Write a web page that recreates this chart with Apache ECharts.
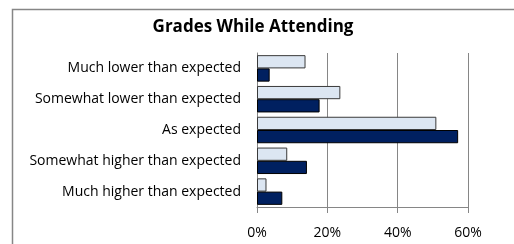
<!DOCTYPE html>
<html><head><meta charset="utf-8">
<script src="https://cdn.jsdelivr.net/npm/echarts@6/dist/echarts.min.js"></script>
<style>html,body{margin:0;padding:0;background:#fff}#c{width:514px;height:244px}</style>
</head><body><div id="c"></div>
<script>
const categories = ["Much lower than expected","Somewhat lower than expected","As expected","Somewhat higher than expected","Much higher than expected"];
const seriesLight = [13.8, 23.7, 51.0, 8.6, 2.7];
const seriesDark = [3.6, 17.8, 57.2, 14.2, 7.2];
const xTicks = [0, 20, 40, 60];

const chart = echarts.init(document.getElementById('c'), null, {renderer:'canvas'});
const font = '"Open Sans", sans-serif';
chart.setOption({
  animation:false,
  title:{text:'Grades While Attending', left:248, top:14, textAlign:'center',
    textStyle:{fontFamily:font, fontSize:17, fontWeight:'bold', color:'#000'}},
  graphic:[{type:'rect', shape:{x:12.5,y:9.5,width:600,height:400}, style:{fill:null, stroke:'#868686', lineWidth:1.5}, silent:true, z:-1}],
  grid:{left:257, top:53, width:211, height:154, containLabel:false},
  xAxis:{type:'value', min:0, max:60, interval:20,
    axisLine:{show:true, lineStyle:{color:'#868686'}},
    axisTick:{show:true, length:6, lineStyle:{color:'#868686'}},
    splitLine:{show:true, lineStyle:{color:'#868686'}},
    axisLabel:{formatter: v => xTicks.includes(v) ? v + '%' : '', margin:19, fontFamily:font, fontSize:14, color:'#000'}},
  yAxis:{type:'category', data:categories, inverse:true,
    axisLine:{show:true, lineStyle:{color:'#868686'}},
    axisTick:{show:false},
    axisLabel:{margin:16, fontFamily:font, fontSize:14, color:'#000'}},
  series:[
    {type:'bar', data:seriesLight, barGap:'0%', barCategoryGap:'14%',
      itemStyle:{color:'#DCE6F2', borderColor:'#3a3a3a', borderWidth:1}},
    {type:'bar', data:seriesDark, barGap:'0%', barCategoryGap:'14%',
      itemStyle:{color:'#002060', borderColor:'#000', borderWidth:1}}
  ]
});
</script></body></html>
